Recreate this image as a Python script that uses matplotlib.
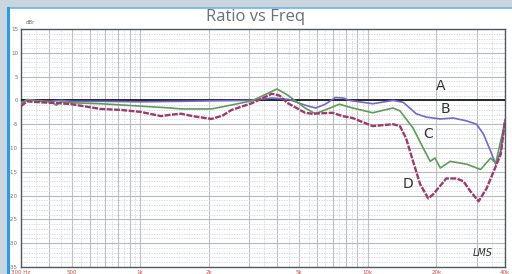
import numpy as np
import matplotlib
matplotlib.use('Agg')
import matplotlib.pyplot as plt
from matplotlib.patches import Rectangle
from matplotlib.ticker import FixedLocator, NullFormatter

# measured curves (Hz, dBr)
freq_b = [300, 320, 400, 450, 500, 700, 1000, 1500, 2000, 3000, 3800, 4500, 5300, 5900,
          6500, 7200, 7800, 8300, 10500, 12900, 14300, 16300, 18000, 20800, 23700, 27100,
          30000, 32200, 34600, 36400, 38300, 40000]
db_b = [-0.5, 0.1, -0.2, 0.0, -0.2, -0.2, -0.3, -0.2, -0.1, 0.0, 0.5, 0.2, -1.0, -1.6,
        -0.8, 0.6, 0.5, 0.0, -0.7, 0.0, -0.4, -2.8, -3.5, -3.9, -3.7, -4.3,
        -5.0, -7.1, -10.7, -13.4, -10.7, -4.0]

freq_c = [300, 320, 364, 403, 430, 446, 500, 671, 1000, 1369, 1515, 2058, 2500, 3093,
          3990, 4420, 5300, 5880, 6990, 7500, 8570, 10500, 12900, 13830, 15790, 17490,
          18780, 19700, 20800, 23000, 27100, 31260, 34630, 36420, 40000]
db_c = [-0.8, 0.2, -0.2, -0.3, -1.0, -0.3, -0.5, -0.7, -1.2, -1.6, -1.8, -1.8, -1.0, -0.1,
        2.4, 1.2, -1.6, -2.8, -1.4, -0.8, -1.6, -2.6, -1.6, -2.2, -5.8, -10.0,
        -12.8, -12.1, -14.2, -12.8, -13.4, -14.5, -12.1, -13.2, -4.5]

freq_d = [300, 319, 364, 446, 500, 671, 823, 1000, 1236, 1369, 1515, 1700, 2058, 2300,
          2523, 3093, 3790, 4100, 4420, 5300, 5700, 6990, 7740, 8570, 10500, 12880,
          13830, 14700, 15790, 16960, 18410, 19370, 22100, 24480, 26280, 28200, 30620,
          33200, 35680, 38320, 40000]
db_d = [-1.2, -0.2, -0.4, -0.6, -0.8, -1.8, -2.0, -2.4, -3.3, -3.0, -2.8, -3.3, -3.9, -3.2,
        -2.0, -0.6, 1.4, 1.0, -0.5, -2.6, -2.8, -2.6, -3.3, -3.7, -5.4, -5.0,
        -5.4, -7.9, -12.8, -17.6, -20.6, -19.7, -16.4, -16.4, -17.0, -19.1, -21.2,
        -18.5, -14.9, -11.3, -4.2]

xtick_vals = [300, 500, 1000, 2000, 5000, 10000, 20000, 40000]
xtick_labels = ['300 Hz', '500', '1k', '2k', '5k', '10k', '20k', '40k']
ytick_vals = [15, 10, 5, 0, -5, -10, -15, -20, -25, -30, -35]

fig = plt.figure(figsize=(5.12, 2.74), dpi=100)
fig.patch.set_facecolor('#c9d6df')
# white panel with blue frame
fig.add_artist(Rectangle((8/512, 0), 1, 1 - 8/274, transform=fig.transFigure,
                         facecolor='white', edgecolor='none', zorder=-5))
fig.add_artist(plt.Line2D([8/512, 1], [1 - 8/274, 1 - 8/274], transform=fig.transFigure,
                          color='#6fb4e6', lw=1.2, zorder=-4))
fig.add_artist(plt.Line2D([8/512, 8/512], [0, 1 - 8/274], transform=fig.transFigure,
                          color='#2f9be6', lw=2.2, zorder=-4))

ax = fig.add_axes([21/512, 7/274, 484/512, 238/274])
ax.set_zorder(2)
ax.set_xscale('log')
ax.set_xlim(300, 40000)
ax.set_ylim(-35, 15)

# grid
minor_x = []
for dec in [100, 1000, 10000]:
    for k in range(1, 10):
        v = k * dec
        if 300 < v < 40000:
            minor_x.append(v)
for v in minor_x:
    ax.axvline(v, color='#bcc1c6', lw=0.8, zorder=1)
for dec in [100, 1000, 10000]:
    for k in range(3, 10):
        v = (k + 0.5) * dec
        if 300 < v < 40000:
            ax.axvline(v, color='#d0d4d8', lw=0.6, ls=(0, (1.5, 1.5)), zorder=1)
for v in ytick_vals:
    ax.axhline(v, color='#b4b9be', lw=0.8, zorder=1)
for v in range(-35, 15):
    if v % 5:
        ax.axhline(v, color='#d0d4d8', lw=0.6, ls=(0, (1.5, 1.5)), zorder=1)

ax.axhline(0, color='#1a1a1a', lw=1.3, zorder=3)
ax.plot(freq_b, db_b, color='#7468cc', lw=1.2, zorder=4)
ax.plot(freq_c, db_c, color='#5e9d58', lw=1.2, zorder=4)
ax.plot(freq_d, db_d, color='#9a3c6c', lw=1.7, ls=(0, (2.5, 0.6)), zorder=5)

for txt, fx, fy in [('A', 20800, 3.0), ('B', 22000, -1.8), ('C', 18400, -7.1), ('D', 15000, -17.6)]:
    ax.text(fx, fy, txt, fontsize=10, color='#333333', ha='center', va='center', zorder=6)

ax.xaxis.set_major_locator(FixedLocator(xtick_vals))
ax.xaxis.set_minor_formatter(NullFormatter())
ax.set_xticks([], minor=True)
ax.set_xticklabels(xtick_labels, fontsize=4, color='#c0504d')
ax.set_yticks(ytick_vals)
ax.set_yticklabels([str(v) for v in ytick_vals], fontsize=4, color='#707070')
ax.tick_params(length=0, pad=2)
for s in ax.spines.values():
    s.set_color('#505860')
    s.set_linewidth(1.0)

fig.text(0.5, 1 - 17/274, 'Ratio vs Freq', ha='center', va='center', fontsize=12,
         color='#687078', family='Open Sans')
fig.text(26/512, 1 - 23/274, 'dBr', fontsize=4, color='#707070', ha='left', va='center')
ax.text(0.955, 0.06, 'LMS', transform=ax.transAxes, fontsize=7, style='italic',
        color='#333333', ha='center', va='center')

fig.savefig('out.png', dpi=100, facecolor=fig.get_facecolor())
